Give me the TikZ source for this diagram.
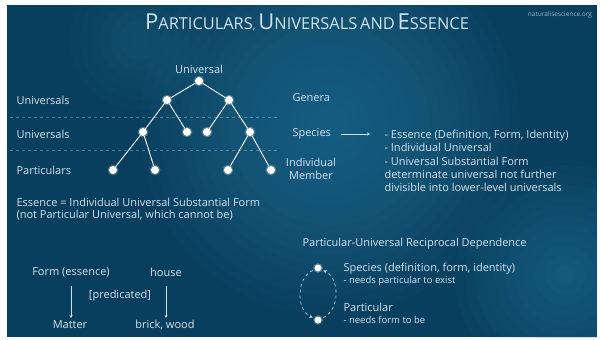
\documentclass[tikz,border=0pt]{standalone}
\usepackage{fontspec}
\setmainfont{Open Sans}
\usepackage{tikz}
\usetikzlibrary{arrows,positioning,calc}
\tikzset{>=stealth}
\definecolor{bgdark}{HTML}{093F5E}
\definecolor{bglight}{HTML}{2A80A8}
\definecolor{txt}{HTML}{D3E3EC}
\newcommand{\fsc}[2]{{\fontsize{22}{22}\selectfont #1}{\fontsize{16.4}{16.4}\selectfont #2}}

\begin{document}
\begin{tikzpicture}[x=1pt,y=-1pt,
	every node/.style={text=txt,font=\fontsize{11}{13.2}\selectfont},
	dot/.style={circle,fill=white,draw=none,minimum size=8pt,inner sep=0pt,
		preaction={draw=white,line width=2.5pt,opacity=0.25}},
	edge/.style={white,line width=0.9pt},
	lbl/.style={anchor=west},
	note/.style={anchor=west,font=\fontsize{9.5}{10}\selectfont},
	cyc/.style={txt,dashed,line width=0.6pt,->,shorten <=2pt,shorten >=2pt}]
	\useasboundingbox (0,0) rectangle (600,340);
	\fill[white] (0,0) rectangle (600,340);
	\fill[bgdark] (7,5) rectangle (597,337);
	%Background
	\begin{scope}
		\clip (7,5) rectangle (597,337);
		\foreach \r in {10,20,...,190} \fill[bglight,opacity=0.045] (330,125) circle (\r pt);
		\foreach \r in {10,20,...,110} \fill[bglight,opacity=0.05] (565,275) circle (\r pt);
		\foreach \r in {10,20,...,70} \fill[bglight,opacity=0.04] (140,40) circle (\r pt);
	\end{scope}
	
	%Title
	\node (title) at (307,22) {\fsc{P}{ARTICULARS}, \fsc{U}{NIVERSALS} \fsc{}{AND} \fsc{E}{SSENCE}};
	\node[font=\fontsize{6.5}{7}\selectfont,opacity=0.7] (site) at (560,15) {naturalisescience.org};
	
	%Points
	\node[dot] (U) at (199,81) {};
	\node[above=0pt of U] (Ulab) {Universal};
	\node[dot] (G1) at (167,100) {};
	\node[dot] (G2) at (229,100) {};
	\node[dot] (S1) at (143,132) {};
	\node[dot] (S2) at (187,132) {};
	\node[dot] (S3) at (207,132) {};
	\node[dot] (S4) at (250,132) {};
	\node[dot] (P1) at (113,170) {};
	\node[dot] (P2) at (155,170) {};
	\node[dot] (P3) at (228,170) {};
	\node[dot] (P4) at (271,170) {};
	
	\draw[edge] (U)--(G1) (U)--(G2);
	\draw[edge] (G1)--(S1) (G1)--(S2) (G2)--(S3) (G2)--(S4);
	\draw[edge] (S1)--(P1) (S1)--(P2) (S4)--(P3) (S4)--(P4);
	
	\draw[txt,dashed,opacity=0.35] (10,117) -- (277,117);
	\draw[txt,dashed,opacity=0.35] (10,150) -- (277,150);
	
	%Levels
	\node[lbl] (lv1) at (13,100) {Universals};
	\node[lbl] (lv2) at (13,134) {Universals};
	\node[lbl] (lv3) at (13,170) {Particulars};
	\node[lbl] (gen) at (289,98) {Genera};
	\node[lbl] (spe) at (289,134) {Species};
	\node[align=center] (ind) at (311,169) {Individual\\Member};
	
	\node[lbl,align=left] (ess) at (381,161) {- Essence (Definition, Form, Identity)\\- Individual Universal\\- Universal Substantial Form\\determinate universal not further\\divisible into lower-level universals};
	\draw[->,txt,shorten <=7pt,shorten >=11pt] (spe.east) -- (spe.east -| ess.west);
	
	%Essence
	\node[lbl,align=left,font=\fontsize{11}{12}\selectfont] (def) at (13,209) {Essence = Individual Universal Substantial Form\\(not Particular Universal, which cannot be)};
	
	\node (form) at (71,272) {Form (essence)};
	\node (house) at (166,272) {house};
	\node (matter) at (70,325) {Matter};
	\node (brick) at (165,325) {brick, wood};
	\node (pred) at (120,296) {[predicated]};
	\draw[->,txt,shorten <=6pt,shorten >=7pt] (form) -- (form |- matter);
	\draw[->,txt,shorten <=6pt,shorten >=7pt] (house) -- (house |- brick);
	
	%Reciprocal
	\node[lbl] (recip) at (299,244) {Particular-Universal Reciprocal Dependence};
	\node[dot,minimum size=7pt] (sd) at (318,268) {};
	\node[dot,minimum size=7pt] (pd) at (318,320) {};
	\node[lbl] (spc) at (340,269) {Species (definition, form, identity)};
	\node[note] (spcn) at (340,281) {- needs particular to exist};
	\node[lbl] (par) at (340,307) {Particular};
	\node[note] (parn) at (340,320) {- needs form to be};
	\draw[cyc] (sd) .. controls +(-22,10) and +(-22,-10) .. (pd);
	\draw[cyc] (pd) .. controls +(22,-10) and +(22,10) .. (sd);
\end{tikzpicture}
\end{document}
